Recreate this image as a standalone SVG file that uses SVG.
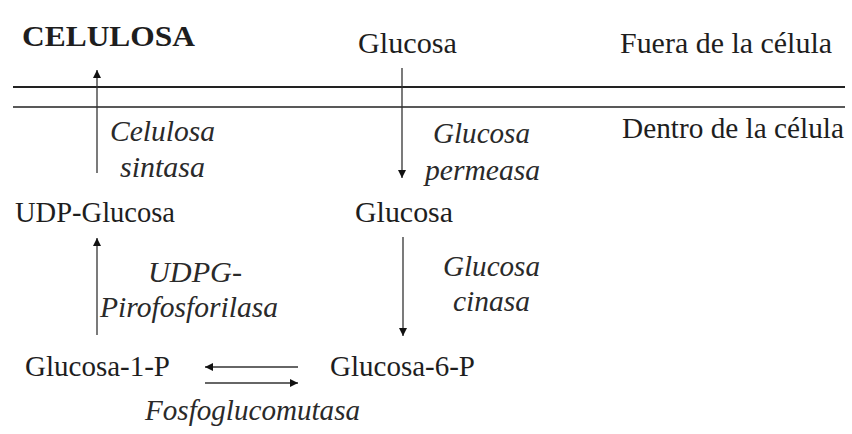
<svg xmlns="http://www.w3.org/2000/svg" width="852" height="434" viewBox="0 0 852 434" font-family="'Liberation Serif', Tinos, 'DejaVu Serif', 'Noto Serif', FreeSerif, Times, serif">
  <style>
    text { font-size: 28.5px; fill: #1e1e1e; }
    .title { font-weight: bold; font-size: 29px; }
    .enz { font-style: italic; fill: #2a2a2a; }
    .edge { stroke: #333; stroke-width: 1.3; fill: none; marker-end: url(#head); }
    .membrane { stroke: #222; fill: none; }
  </style>
  <defs>
    <marker id="head" viewBox="0 0 10 10" refX="10" refY="5" markerWidth="8" markerHeight="8" markerUnits="userSpaceOnUse" orient="auto">
      <path d="M0,0 L10,5 L0,10 Z" fill="#111"/>
    </marker>
  </defs>

  <rect width="852" height="434" fill="#ffffff"/>

  <!-- cell membrane -->
  <g id="membrane">
    <line class="membrane" x1="13" y1="87" x2="845" y2="87" stroke-width="2.2"/>
    <line class="membrane" x1="13" y1="107" x2="845" y2="107" stroke-width="1.6" stroke="#444"/>
    <text x="620" y="53" textLength="212" lengthAdjust="spacingAndGlyphs">Fuera de la célula</text>
    <text x="622" y="138" textLength="222" lengthAdjust="spacingAndGlyphs">Dentro de la célula</text>
  </g>

  <!-- metabolites -->
  <g id="celulosa"><text class="title" x="22" y="46" textLength="173" lengthAdjust="spacingAndGlyphs">CELULOSA</text></g>
  <g id="glucosa-ext"><text x="358" y="53" textLength="99" lengthAdjust="spacingAndGlyphs">Glucosa</text></g>
  <g id="udp-glucosa"><text x="15" y="222" textLength="160" lengthAdjust="spacingAndGlyphs">UDP-Glucosa</text></g>
  <g id="glucosa-int"><text x="355" y="222" textLength="98" lengthAdjust="spacingAndGlyphs">Glucosa</text></g>
  <g id="glucosa-1-p"><text x="25" y="376" textLength="145" lengthAdjust="spacingAndGlyphs">Glucosa-1-P</text></g>
  <g id="glucosa-6-p"><text x="330" y="376" textLength="145" lengthAdjust="spacingAndGlyphs">Glucosa-6-P</text></g>

  <!-- enzymes -->
  <g id="celulosa-sintasa">
    <text class="enz" x="110" y="141" textLength="105" lengthAdjust="spacingAndGlyphs">Celulosa</text>
    <text class="enz" x="120" y="177" textLength="85" lengthAdjust="spacingAndGlyphs">sintasa</text>
  </g>
  <g id="glucosa-permeasa">
    <text class="enz" x="433" y="143" textLength="97" lengthAdjust="spacingAndGlyphs">Glucosa</text>
    <text class="enz" x="425" y="180" textLength="115" lengthAdjust="spacingAndGlyphs">permeasa</text>
  </g>
  <g id="udpg-pirofosforilasa">
    <text class="enz" x="148" y="282" textLength="94" lengthAdjust="spacingAndGlyphs">UDPG-</text>
    <text class="enz" x="100" y="317" textLength="178" lengthAdjust="spacingAndGlyphs">Pirofosforilasa</text>
  </g>
  <g id="glucosa-cinasa">
    <text class="enz" x="443" y="276" textLength="97" lengthAdjust="spacingAndGlyphs">Glucosa</text>
    <text class="enz" x="453" y="311" textLength="77" lengthAdjust="spacingAndGlyphs">cinasa</text>
  </g>
  <g id="fosfoglucomutasa">
    <text class="enz" x="145" y="420" textLength="215" lengthAdjust="spacingAndGlyphs">Fosfoglucomutasa</text>
  </g>

  <!-- reaction arrows -->
  <g id="connectors">
    <line class="edge" x1="97" y1="173" x2="97" y2="70"/>
    <line class="edge" x1="402" y1="68" x2="402" y2="178"/>
    <line class="edge" x1="97" y1="335" x2="97" y2="238"/>
    <line class="edge" x1="403" y1="237" x2="403" y2="336"/>
    <line class="edge" x1="298" y1="367" x2="205" y2="367"/>
    <line class="edge" x1="205" y1="383" x2="298" y2="383"/>
  </g>
</svg>
